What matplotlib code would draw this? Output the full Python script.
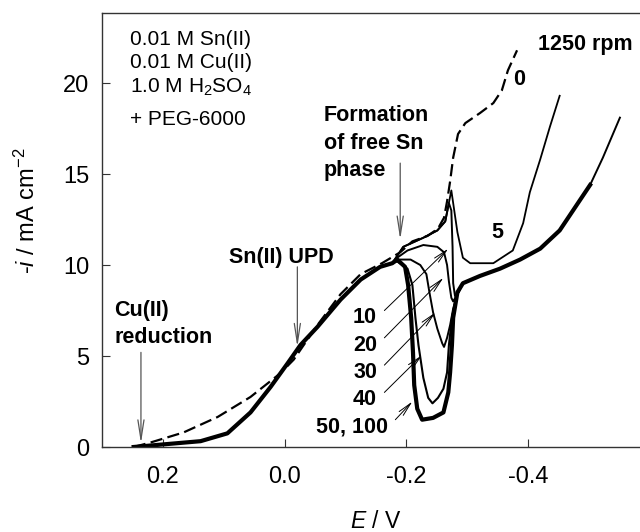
import matplotlib
matplotlib.use('agg')
import matplotlib.pyplot as plt

plt.rcParams['font.family'] = ['Liberation Sans', 'DejaVu Sans']
plt.rcParams['mathtext.fontset'] = 'custom'
plt.rcParams['mathtext.rm'] = 'Liberation Sans'
plt.rcParams['mathtext.it'] = 'Liberation Sans:italic'
plt.rcParams['mathtext.bf'] = 'Liberation Sans:bold'
plt.rcParams['axes.unicode_minus'] = False

# common rising part (E / V, -i / mA cm-2)
E_base = [0.248, 0.19, 0.138, 0.094, 0.056, 0.023, -0.005, -0.026, -0.054,
          -0.092, -0.125, -0.157, -0.177]
i_base = [0.0, 0.17, 0.32, 0.75, 1.9, 3.3, 4.6, 5.6, 6.6, 8.1, 9.2, 9.9, 10.1]

# shared branch of 10-100 rpm at negative potentials
E_tail = [-0.293, -0.321, -0.354, -0.387, -0.42, -0.452, -0.474, -0.502]
i_tail = [9.0, 9.4, 9.8, 10.3, 10.9, 11.9, 13.0, 14.4]

# 0 rpm (dashed)
E_0 = [0.248, 0.22, 0.166, 0.11, 0.056, 0.007, -0.015, -0.054, -0.092, -0.125,
       -0.16, -0.19, -0.21, -0.235, -0.252, -0.262, -0.267, -0.272, -0.277,
       -0.285, -0.297, -0.321, -0.343, -0.357, -0.367, -0.382]
i_0 = [0.0, 0.25, 0.8, 1.65, 2.75, 4.05, 4.8, 6.7, 8.4, 9.5,
       10.1, 10.7, 11.3, 11.6, 12.0, 12.6, 13.5, 14.6, 15.9,
       17.2, 17.8, 18.35, 18.9, 19.6, 20.7, 21.8]

# 5 rpm
E_5 = [-0.195, -0.228, -0.251, -0.264, -0.274, -0.284, -0.293, -0.305, -0.343,
       -0.375, -0.392, -0.403, -0.42, -0.436, -0.452]
i_5 = [11.0, 11.5, 11.9, 12.4, 14.1, 11.8, 10.4, 10.1, 10.1,
       10.8, 12.3, 14.0, 15.8, 17.6, 19.3]

# 10 rpm
E_10 = [-0.195, -0.228, -0.251, -0.264, -0.270, -0.274, -0.276, -0.277, -0.280,
        -0.286]
i_10 = [11.0, 11.5, 11.9, 12.4, 13.4, 13.0, 11.0, 9.0, 8.3, 8.5]
E_10_end = [-0.523, -0.551]
i_10_end = [15.9, 18.1]

# 20 rpm
E_20 = [-0.185, -0.202, -0.228, -0.251, -0.262, -0.267, -0.270, -0.274, -0.277,
        -0.284]
i_20 = [10.4, 10.8, 11.1, 11.0, 10.7, 10.0, 9.1, 8.2, 8.0, 8.4]

# 30 rpm
E_30 = [-0.185, -0.207, -0.223, -0.233, -0.238, -0.244, -0.251, -0.259, -0.262,
        -0.267, -0.272, -0.277, -0.284]
i_30 = [10.3, 10.3, 10.0, 9.5, 8.5, 7.4, 6.5, 5.7, 5.5,
        6.0, 6.7, 7.6, 8.4]

# 40 rpm
E_40 = [-0.185, -0.202, -0.21, -0.215, -0.22, -0.228, -0.236, -0.243, -0.252,
        -0.261, -0.267, -0.270, -0.275, -0.284]
i_40 = [10.2, 9.8, 8.9, 7.1, 5.6, 3.8, 2.7, 2.4, 2.7,
        3.2, 4.1, 5.6, 7.1, 8.5]

# 50 and 100 rpm
E_50 = [-0.185, -0.198, -0.203, -0.208, -0.211, -0.213, -0.218, -0.226, -0.244,
        -0.261, -0.269, -0.272, -0.275, -0.277, -0.284]
i_50 = [10.3, 9.9, 8.9, 7.1, 5.2, 3.4, 2.1, 1.5, 1.6,
        1.9, 3.0, 4.1, 5.6, 7.1, 8.5]

rpm_labels = ['10', '20', '30', '40', '50, 100']
label_i = [7.1, 5.6, 4.1, 2.6, 1.1]
arrow_tips = [(-0.269, 10.9), (-0.261, 9.3), (-0.248, 7.4), (-0.226, 5.05), (-0.210, 2.5)]

fig = plt.figure(figsize=(6.4, 5.32), dpi=100)
ax = fig.add_axes([102/640, 85/532, 538/640, 434/532])

k = 'black'
ax.plot(E_0, i_0, color=k, lw=1.6, dashes=(5.5, 2.4))
ax.plot(E_base + E_5, i_base + i_5, color=k, lw=1.3)
ax.plot(E_base + E_10 + E_tail + E_10_end, i_base + i_10 + i_tail + i_10_end, color=k, lw=1.4)
ax.plot(E_base + E_20 + E_tail, i_base + i_20 + i_tail, color=k, lw=1.4)
ax.plot(E_base + E_30 + E_tail, i_base + i_30 + i_tail, color=k, lw=1.4)
ax.plot(E_base + E_40 + E_tail, i_base + i_40 + i_tail, color=k, lw=1.5)
ax.plot(E_base + E_50 + E_tail, i_base + i_50 + i_tail, color=k, lw=3.0,
        solid_joinstyle='round')

ax.set_xlim(0.3, -0.584)
ax.set_ylim(0, 23.85)
ax.set_xticks([0.2, 0.0, -0.2, -0.4])
ax.set_xticklabels(['0.2', '0.0', '-0.2', '-0.4'])
ax.set_yticks([0, 5, 10, 15, 20])
ax.tick_params(direction='in', length=6, width=0.8, labelsize=17, color='#333333')
ax.tick_params(axis='x', pad=14)
ax.tick_params(axis='y', pad=9)
ax.spines['right'].set_visible(False)
for s in ['left', 'top', 'bottom']:
    ax.spines[s].set_linewidth(1.0)
    ax.spines[s].set_color('#333333')

fig.text(376/640, 1 - 510/532, r'$\it{E}$ / V', fontsize=16.5, ha='center', va='top')
fig.text(27/640, 1 - 211/532, r'-$\it{i}$ / mA cm$^{-2}$', fontsize=17,
         rotation=90, ha='center', va='center')

# conditions
cond = ['0.01 M Sn(II)', '0.01 M Cu(II)', r'1.0 M H$_2$SO$_4$', '+ PEG-6000']
cond_i = [22.4, 21.15, 19.75, 18.0]
for t, y in zip(cond, cond_i):
    ax.text(0.254, y, t, fontsize=15, ha='left', va='center')

bold = dict(fontsize=15.5, fontweight='bold', va='center')
ax.text(-0.416, 22.1, '1250 rpm', ha='left', **bold)
ax.text(-0.385, 20.2, '0', ha='center', **bold)
ax.text(-0.349, 11.8, '5', ha='center', **bold)
ax.text(-0.064, 18.2, 'Formation', ha='left', **bold)
ax.text(-0.064, 16.7, 'of free Sn', ha='left', **bold)
ax.text(-0.064, 15.2, 'phase', ha='left', **bold)
ax.text(0.092, 10.4, 'Sn(II) UPD', ha='left', **bold)
ax.text(0.28, 7.5, 'Cu(II)', ha='left', **bold)
ax.text(0.28, 6.0, 'reduction', ha='left', **bold)

grey = '#555555'
vstyle = dict(arrowstyle='->,head_length=1.4,head_width=0.22', color=grey, lw=0.9,
              shrinkA=0, shrinkB=0)
ax.annotate('', xy=(0.236, 0.2), xytext=(0.236, 5.2), arrowprops=vstyle)
ax.annotate('', xy=(-0.021, 5.5), xytext=(-0.021, 9.9), arrowprops=vstyle)
ax.annotate('', xy=(-0.19, 11.4), xytext=(-0.19, 15.6), arrowprops=vstyle)

lstyle = dict(arrowstyle='->,head_length=1.0,head_width=0.2', color='black', lw=0.7,
              shrinkA=0, shrinkB=0)
for lab, y, tip in zip(rpm_labels, label_i, arrow_tips):
    xr = -0.170 if lab == '50, 100' else -0.152
    ax.text(xr, y, lab, ha='right', **bold)
    ax.annotate('', xy=tip, xytext=(xr - 0.012, y + 0.4), arrowprops=lstyle)

fig.savefig('out.png', dpi=100)
